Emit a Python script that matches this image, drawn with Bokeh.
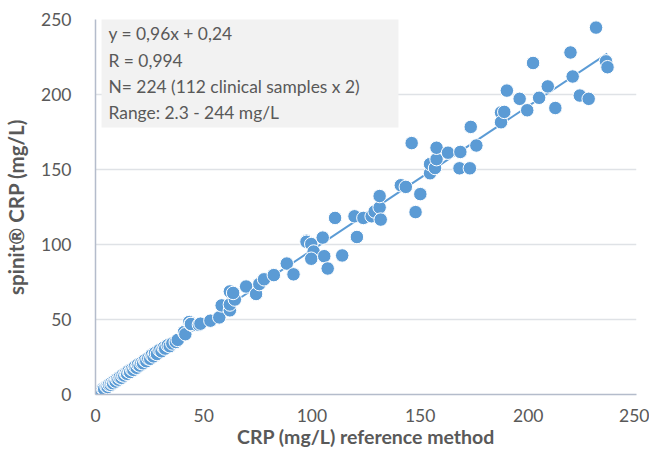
from bokeh.plotting import figure
from bokeh.models import Range1d, FixedTicker, BoxAnnotation, Label
from bokeh.embed import file_html
from bokeh.resources import INLINE

# Reference method CRP (mg/L)
ref_x = [2.3, 2.8, 3.5, 4.0, 5.1, 5.6, 6.2, 7.0, 7.4, 8.1, 8.8, 9.3, 10.0, 10.6, 11.2, 12.0,
         12.5, 13.3, 14.0, 14.6, 15.3, 16.0, 16.8, 17.5, 18.2, 19.0, 19.6, 20.4, 21.2, 22.0,
         22.8, 23.5, 24.4, 25.3, 26.0, 26.8, 27.5, 28.4, 29.6, 30.5, 31.5, 32.2, 33.4, 34.3,
         35.5, 37.1, 38.0, 40.9, 41.5, 43.3, 43.9, 44.8, 44.1, 47.8, 48.5,
         53.1, 57.2, 58.3, 62.1, 62.1, 62.1, 64.4, 63.6, 69.6, 74.2, 75.7, 77.9, 82.4, 88.4,
         91.5, 97.5, 97.5, 99.7, 100.8, 99.7, 105.7, 107.3, 105.0, 110.7, 114.0, 119.7, 120.8,
         123.8, 127.6, 129.0, 131.3, 131.3, 131.8, 141.1, 143.4, 146.1, 147.9, 150.1, 154.6,
         154.6, 156.9, 157.6, 157.6, 162.9, 168.6, 168.2, 173.0, 173.4, 176.0, 187.4, 187.4,
         188.9, 190.1, 196.0, 199.5, 202.2, 205.0, 209.0, 212.5, 219.5, 220.5, 223.8, 227.9,
         231.3, 235.9, 236.6]
# spinit CRP (mg/L)
spinit_y = [2.5, 2.6, 3.9, 3.6, 5.3, 5.0, 6.5, 6.4, 7.8, 7.5, 9.2, 8.6, 10.4, 9.9, 11.5, 11.1,
            12.9, 12.6, 14.2, 13.8, 15.6, 15.0, 16.9, 16.4, 18.5, 17.8, 19.9, 19.3, 21.0, 20.8,
            22.9, 22.2, 24.1, 23.8, 26.3, 25.4, 27.6, 27.0, 29.6, 28.8, 31.2, 30.6, 32.8, 32.2,
            34.0, 35.0, 36.4, 41.6, 40.2, 48.3, 47.0, 46.2, 47.0, 46.5, 47.2,
            49.2, 51.4, 59.4, 56.1, 60.0, 68.7, 63.3, 67.7, 72.0, 67.0, 73.6, 76.8, 79.6, 87.3,
            80.1, 102.5, 101.8, 100.3, 95.3, 90.5, 92.2, 84.0, 104.6, 117.7, 92.7, 118.8, 105.0,
            117.7, 118.8, 122.0, 124.7, 132.3, 116.6, 139.5, 138.4, 167.6, 121.6, 133.6, 147.5,
            153.6, 151.0, 156.9, 164.5, 161.2, 161.7, 150.8, 150.8, 178.4, 166.0, 188.0, 181.5,
            188.4, 202.6, 197.1, 189.5, 221.0, 197.8, 205.4, 191.0, 228.0, 212.0, 199.3, 197.1,
            244.6, 222.1, 218.2]

fit_slope = 0.96
fit_intercept = 0.24
fit_x = [2.0, 236.5]
fit_y = [fit_slope * v + fit_intercept for v in fit_x]

info_lines = ["y = 0,96x + 0,24", "R = 0,994", "N= 224 (112 clinical samples x 2)",
              "Range: 2.3 - 244 mg/L"]
x_ticks = [0, 50, 100, 150, 200, 250]
y_ticks = [0, 50, 100, 150, 200, 250]

FONT = "Lato"
TXT = "#595959"
BLUE = "#5b9bd5"

p = figure(width=649, height=450, output_backend="svg", toolbar_location=None,
           x_range=Range1d(0, 250), y_range=Range1d(0, 250),
           min_border_left=95, min_border_right=13, min_border_top=19, min_border_bottom=56)
p.outline_line_color = None
p.background_fill_color = "white"

for ax in (p.xaxis[0], p.yaxis[0]):
    ax.major_tick_line_color = None
    ax.minor_tick_line_color = None
    ax.axis_line_color = "#b4bccb"
    ax.axis_line_width = 1.5
    ax.major_label_text_font = FONT
    ax.major_label_text_font_size = "17.5px"
    ax.major_label_text_color = TXT
    ax.axis_label_text_font = FONT
    ax.axis_label_text_font_size = "19.5px"
    ax.axis_label_text_font_style = "bold"
    ax.axis_label_text_color = TXT

p.xaxis.ticker = FixedTicker(ticks=x_ticks)
p.yaxis.ticker = FixedTicker(ticks=y_ticks)
p.xaxis.axis_label = "CRP (mg/L) reference method"
p.yaxis.axis_label = "spinit® CRP (mg/L)"
p.yaxis.axis_label_text_font_size = "20.5px"
p.xaxis.major_label_standoff = 8
p.yaxis.major_label_standoff = 18
p.xaxis.axis_label_standoff = 0
p.yaxis.axis_label_standoff = 10

p.xgrid.grid_line_color = None
p.ygrid.grid_line_color = "#dfe2e6"
p.ygrid.grid_line_width = 1.5

p.line(fit_x, fit_y, line_color=BLUE, line_width=2)
p.scatter(ref_x, spinit_y, size=13.5, fill_color=BLUE, line_color="white", line_width=1)

box = BoxAnnotation(left=2.8, right=140.0, bottom=178.0, top=252.7,
                    fill_color="#f2f2f2", fill_alpha=1.0, line_color=None, level="overlay")
p.add_layout(box)
ys = [240.7, 222.7, 205.3, 188.0]
for t, yv in zip(info_lines, ys):
    p.add_layout(Label(x=6.0, y=yv, text=t, text_font=FONT, text_font_size="17.4px",
                       text_color=TXT, text_baseline="middle", level="overlay"))

open("out.html", "w").write(file_html(p, INLINE))
